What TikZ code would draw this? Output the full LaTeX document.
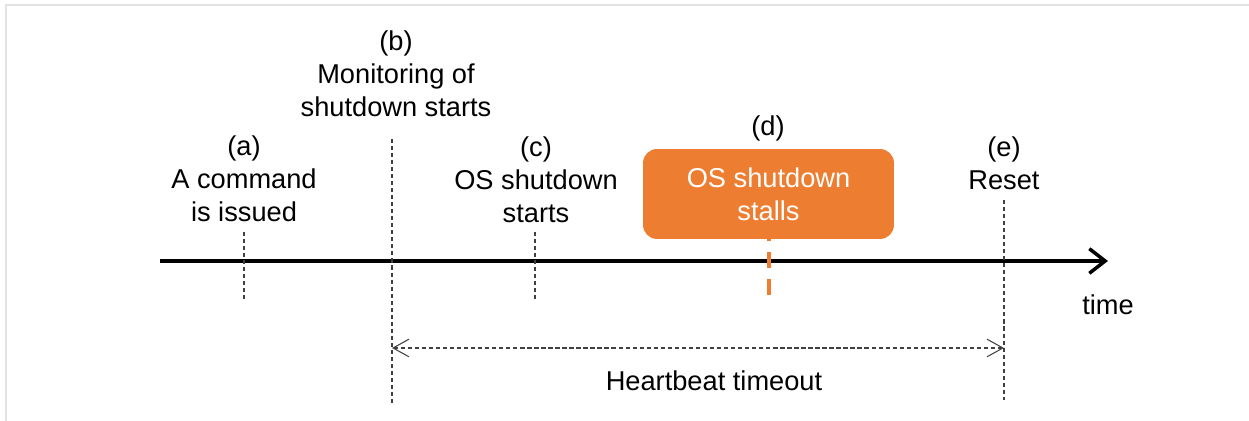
\documentclass[tikz,border=0pt]{standalone}
\usepackage{fontspec}
\setmainfont{Liberation Sans}
\usepackage{tikz}
\usetikzlibrary{arrows.meta,positioning,calc}
\usepackage{xcolor}
\definecolor{forange}{HTML}{ED7D31}
\definecolor{fguide}{HTML}{404040}
\definecolor{fframe}{HTML}{E3E3E3}
\tikzset{
  lbl/.style      = {align=center, inner sep=0pt},
  guide/.style    = {fguide, line width=0.6pt, dash pattern=on 2.3pt off 1.7pt},
  stallbox/.style = {fill=forange, text=white, rounded corners=8pt, align=center,
                     minimum width=5.02cm, minimum height=1.8cm, inner sep=0pt},
  axis/.style     = {-{Straight Barb[length=9pt,width=14pt,line width=2pt]}, line width=2pt},
  span/.style     = {{Straight Barb[length=9pt,width=10pt]}-{Straight Barb[length=9pt,width=10pt]},
                     fguide, line width=0.6pt, dash pattern=on 2.5pt off 1.5pt},
}

\begin{document}
\begin{tikzpicture}[x=0.02cm,y=-0.02cm,font=\fontsize{15.5}{18.7}\selectfont]
\useasboundingbox (0,0) rectangle (1249,421);
\draw[fframe, line width=0.8pt] (6,421) -- (6,5) -- (1249,5);
% labels above the time axis
\node[lbl] (cmd)  at (244,179) {(a)\\A command\\is issued};
\node[lbl] (mon)  at (396,74)  {(b)\\Monitoring of\\shutdown starts};
\node[lbl] (osd)  at (536,180) {(c)\\OS shutdown\\starts};
\node[lbl] (dlbl) at (768,128) {(d)};
\node[stallbox] (stall) at (768.5,194) {OS shutdown\\stalls};
\node[lbl] (rst)  at (1004,163) {(e)\\Reset};
\node[lbl] (time) at (1108,305) {time};
\node[lbl] (hbt)  at (714,381) {Heartbeat timeout};
% time axis
\coordinate (t0) at (160,261);
\coordinate (t1) at (1108,261);
\draw[axis] (t0) -- (t1);
% guide lines
\coordinate (a0) at (244,232);  \coordinate (a1) at (244,302);
\coordinate (b0) at (392,139);  \coordinate (b1) at (392,404);
\coordinate (c0) at (535,232);  \coordinate (c1) at (535,302);
\coordinate (e0) at (1004,200); \coordinate (e1) at (1004,400);
\coordinate (d1) at (769,297);
\draw[guide] (a0) -- (a1);
\draw[guide] (b0) -- (b1);
\draw[guide] (c0) -- (c1);
\draw[guide] (e0) -- (e1);
\draw[forange, line width=2pt, dash pattern=on 9pt off 6.2pt, dash phase=8pt]
  (stall.south -| d1) -- (d1);
% heartbeat span
\coordinate (h0) at (392,348);
\coordinate (h1) at (1004,348);
\draw[span] (h0) -- (h1);
\end{tikzpicture}
\end{document}
